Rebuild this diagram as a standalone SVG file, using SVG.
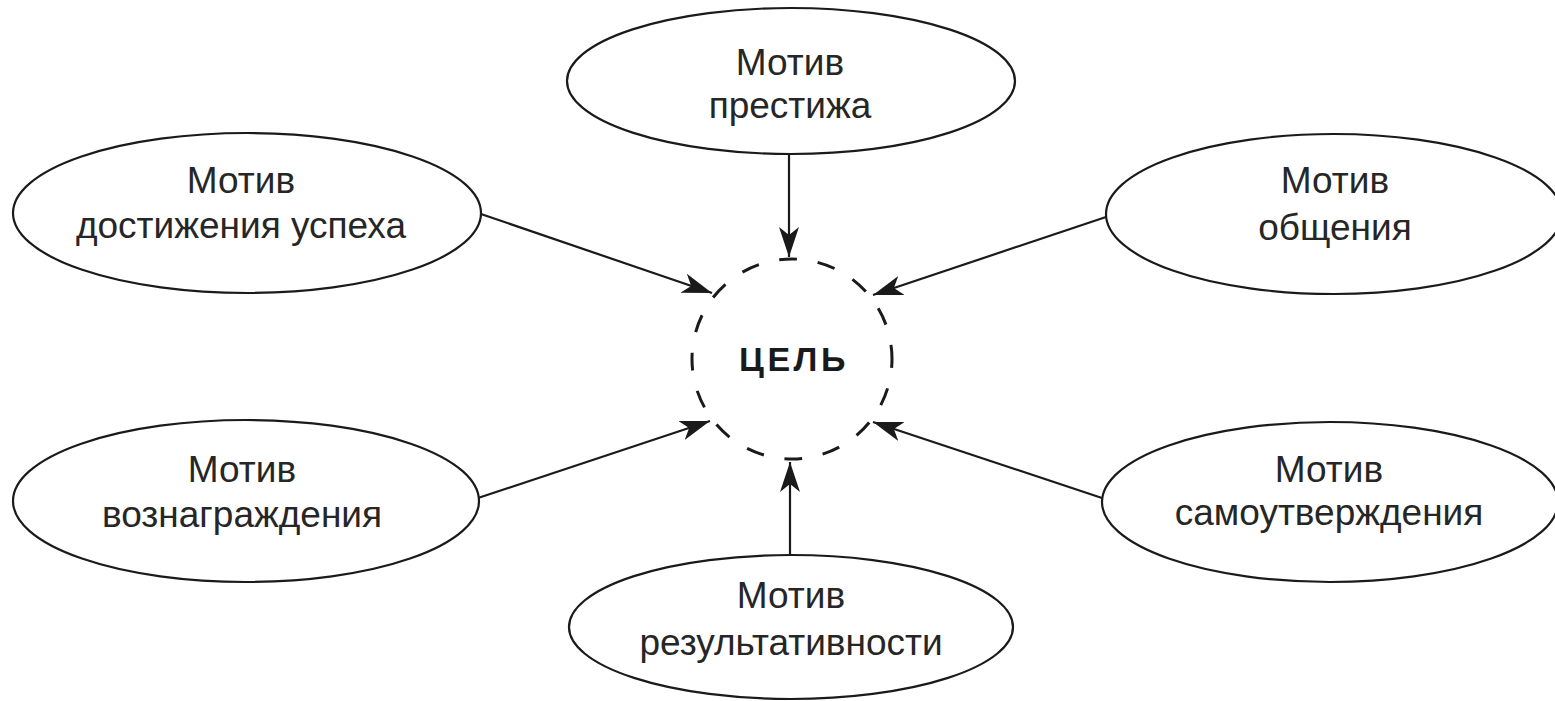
<svg xmlns="http://www.w3.org/2000/svg" width="1555" height="701" viewBox="0 0 1555 701">
<style>
.node ellipse{fill:#fff;stroke:#1a1a1a;stroke-width:2.2}
.node text{font-family:"Liberation Sans",Arial,sans-serif;font-size:37px;fill:#262626;text-anchor:middle}
.conn line{stroke:#1a1a1a;stroke-width:2.2}
.goal circle{fill:none;stroke:#1a1a1a;stroke-width:3;stroke-dasharray:18 20.88;stroke-dashoffset:9}
.goal text{font-family:"Liberation Sans",Arial,sans-serif;font-size:34px;font-weight:bold;letter-spacing:3.5px;fill:#1a1a1a;text-anchor:middle}
</style>
<defs>
<marker id="arr" viewBox="0 0 30 22" markerUnits="userSpaceOnUse" markerWidth="30" markerHeight="22" refX="30" refY="11" orient="auto">
<path d="M0,1 L30,11 L0,21 L8,11 Z" fill="#1a1a1a"/>
</marker>
</defs>
<rect width="1555" height="701" fill="#fff"/>
<g id="conn" class="conn">
<line x1="789" y1="154" x2="789" y2="257" marker-end="url(#arr)"/>
<line x1="478" y1="213" x2="712" y2="293" marker-end="url(#arr)"/>
<line x1="1106" y1="217" x2="873" y2="295" marker-end="url(#arr)"/>
<line x1="478" y1="498" x2="710" y2="421" marker-end="url(#arr)"/>
<line x1="1102" y1="498" x2="873" y2="422" marker-end="url(#arr)"/>
<line x1="790" y1="555" x2="790" y2="462" marker-end="url(#arr)"/>
</g>
<g id="goal" class="goal">
<circle cx="792" cy="359" r="100"/>
<text x="794" y="371">ЦЕЛЬ</text>
</g>
<g id="n-prestige" class="node">
<ellipse cx="791" cy="81" rx="224" ry="73"/>
<text x="790" y="75">Мотив</text>
<text x="790" y="118">престижа</text>
</g>
<g id="n-success" class="node">
<ellipse cx="247" cy="213" rx="234" ry="80"/>
<text x="241" y="193">Мотив</text>
<text x="241" y="238">достижения  успеха</text>
</g>
<g id="n-communication" class="node">
<ellipse cx="1334" cy="214" rx="228" ry="80"/>
<text x="1335" y="193">Мотив</text>
<text x="1335" y="240">общения</text>
</g>
<g id="n-reward" class="node">
<ellipse cx="246" cy="501" rx="233" ry="81"/>
<text x="242" y="482">Мотив</text>
<text x="242" y="527">вознаграждения</text>
</g>
<g id="n-selfaffirmation" class="node">
<ellipse cx="1330" cy="502" rx="228" ry="80"/>
<text x="1329" y="482">Мотив</text>
<text x="1329" y="525">самоутверждения</text>
</g>
<g id="n-result" class="node">
<ellipse cx="791" cy="627" rx="222" ry="72"/>
<text x="791" y="608">Мотив</text>
<text x="791" y="655">результативности</text>
</g>
</svg>
